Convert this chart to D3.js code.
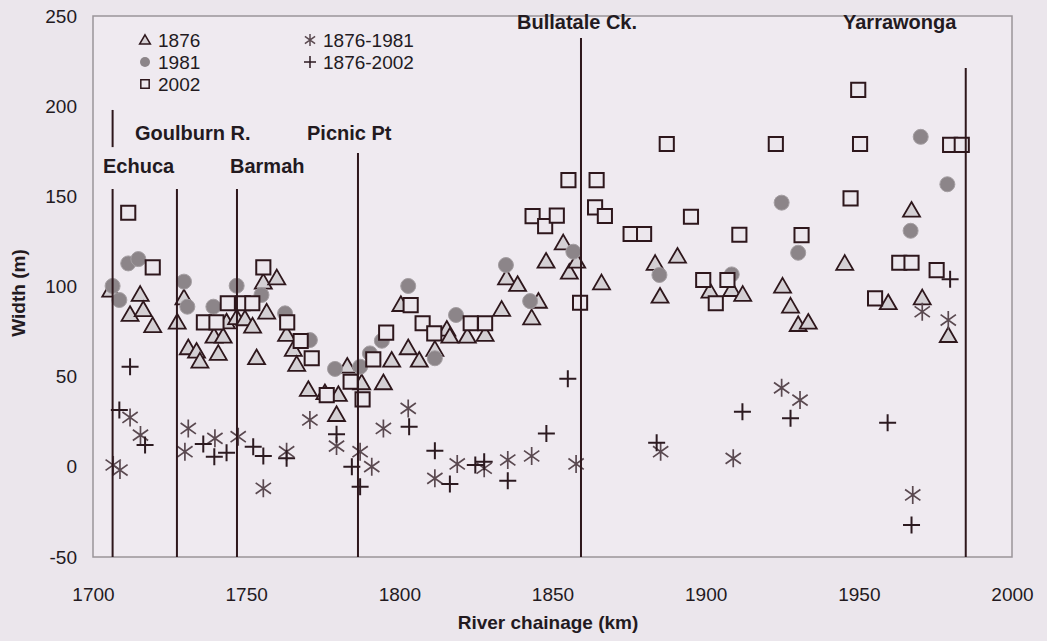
<!DOCTYPE html>
<html>
<head>
<meta charset="utf-8">
<script src="https://cdn.jsdelivr.net/npm/d3@7"></script>
<style>
  html, body { margin: 0; padding: 0; background: #ebe6ec; }
  svg { display: block; }
</style>
</head>
<body>
<div id="chart"></div>
<script>
// Ширина русла (м) по кілометражу річки
const widths1876 = [
  [1705.8, 97.7], [1712.1, 84.2], [1715.4, 95.3], [1716.4, 86.9], [1719.5, 78],
  [1727.5, 79.9], [1729.7, 93.4], [1731.1, 65.7], [1733.8, 63.8], [1734.9, 58.3],
  [1739.5, 72.1], [1742.5, 72.1], [1740.9, 62.6], [1743.6, 80], [1746.9, 82.4],
  [1749.6, 81.8], [1752.1, 77.7], [1753.4, 60.2], [1755.6, 102.1], [1756.7, 85.5],
  [1760, 104.5], [1763.2, 73.1], [1765.4, 64.8], [1766.5, 56.5], [1770.3, 42.6],
  [1775.7, 40.8], [1779.5, 28.7], [1780.1, 39.8], [1783, 55.5], [1787.7, 46.3],
  [1794.8, 46.3], [1797.5, 58.8], [1800.5, 89.7], [1802.9, 65.7], [1806.5, 58.8],
  [1811.6, 64.8], [1815.5, 76], [1816.5, 72.1], [1822.2, 72.1], [1828, 73.1],
  [1833.4, 87], [1835, 104.5], [1838.6, 100.8], [1843.2, 82.3], [1845.4, 91.5],
  [1847.9, 113.7], [1853.5, 123.9], [1855.5, 107.6], [1857.9, 113.7], [1866, 101.7],
  [1883.5, 112.5], [1885.1, 94.3], [1890.8, 116.5], [1901.4, 97.1], [1908.5, 98],
  [1912.1, 95.3], [1925.1, 99.9], [1927.7, 88.8], [1930.2, 78.6], [1933.5, 79.9],
  [1945.4, 112.5], [1959.6, 90.7], [1967.2, 142], [1970.7, 93.4], [1979.2, 72.5]
];

const widths1981 = [
  [1706.4, 100.3], [1708.6, 92.5], [1711.5, 112.8], [1714.8, 115.2], [1729.7, 102.7],
  [1730.8, 88.8], [1739.3, 88.8], [1746.9, 100.4], [1755, 95.3], [1762.7, 85.1],
  [1770.8, 70.3], [1779, 54.3], [1787.2, 55.5], [1790.4, 62.9], [1794.3, 69.9],
  [1802.9, 100.3], [1811.6, 60.2], [1818.5, 84.2], [1834.8, 111.9], [1842.7, 91.9],
  [1856.8, 119.3], [1884.9, 106.4], [1908.5, 106.7], [1924.8, 146.5], [1930.2, 118.7],
  [1966.9, 130.9], [1970.2, 183], [1978.9, 156.7]
];

const widths2002 = [
  [1711.5, 140.9], [1719.5, 110.6], [1736.2, 80.1], [1740.3, 80.1], [1744, 90.7],
  [1748.9, 90.7], [1752, 90.7], [1755.6, 110.6], [1763.4, 80.1], [1767.8, 69.8],
  [1771.4, 60.2], [1776.3, 39.8], [1784.1, 47.2], [1788, 37.4], [1791.5, 59.6],
  [1795.7, 74.4], [1803.7, 89.7], [1807.6, 79.6], [1811.4, 74], [1823.3, 79.6],
  [1828, 79.6], [1843.5, 139], [1847.6, 133.5], [1851.4, 139.3], [1855.2, 159],
  [1859, 91], [1863.9, 143.9], [1864.4, 159], [1867.1, 139.1], [1875.5, 129.1],
  [1879.9, 129.1], [1887.3, 179], [1895.2, 138.7], [1899.2, 103.6], [1903.3, 90.7],
  [1907.1, 103.6], [1911, 128.7], [1922.9, 179], [1931.3, 128.5], [1947.3, 148.9],
  [1949.8, 209], [1950.4, 179], [1955.3, 93.4], [1963.2, 113.2], [1967.2, 113.2],
  [1975.4, 109.1], [1979.8, 178.5], [1983.6, 178.5]
];

const change1876_1981 = [
  [1706.6, 1], [1708.8, -1.8], [1712.1, 27.4], [1715.5, 17.6], [1730, 8.4],
  [1731.1, 21.3], [1739.8, 15.8], [1747.4, 16.7], [1755.6, -11.9], [1763.2, 8.4],
  [1770.8, 26], [1779.5, 11.5], [1787.2, 8.4], [1791, 0.1], [1794.8, 21.3],
  [1802.9, 32.4], [1811.6, -6.4], [1818.9, 1.6], [1827.7, -0.8], [1835.4, 3.8],
  [1843.2, 6], [1857.7, 1.6], [1885.3, 8.4], [1909, 4.7], [1924.8, 43.8],
  [1930.8, 37], [1967.6, -15.6], [1970.7, 86], [1979.2, 81.4]
];

const change1876_2002 = [
  [1708.6, 31.5], [1712.1, 55.5], [1717, 12.1], [1736, 12.6], [1739.6, 5.6],
  [1743.6, 7.8], [1752.3, 11.1], [1755.6, 6], [1763.2, 4.7], [1779.5, 18],
  [1784.5, 0], [1787.2, -11], [1803.2, 22.2], [1811.6, 8.9], [1816.5, -9.5],
  [1824.8, 1], [1827.7, 2.8], [1835.4, -7.7], [1848, 18.5], [1855, 48.8],
  [1884, 13.4], [1912, 30.6], [1927.7, 26.9], [1959.4, 24.5], [1967.2, -32.3],
  [1979.8, 104]
];

// Орієнтири: назва, км, верх лінії (м)
const landmarkNames = ["Echuca", "Goulburn R.", "Barmah", "Picnic Pt", "Bullatale Ck.", "Yarrawonga"];
const landmarkKm = [1706.4, 1727.4, 1747, 1786.5, 1859.3, 1984.9];
const landmarkTop = [154, 154, 154, 174, 237.8, 221.2];

const xTicks = [1700, 1750, 1800, 1850, 1900, 1950, 2000];
const yTicks = [-50, 0, 50, 100, 150, 200, 250];

const width = 1047, height = 641;
const colors = {
  text: "#231a1f",
  line: "#2e171c",
  frame: "#9b9599",
  plot: "#efeaf0",
  triFill: "#d4d0d4",
  circle: "#8c8589",
  star: "#5a4950",
  plus: "#2c1a20"
};
const font = "'Liberation Sans', Arial, sans-serif";

const svg = d3.select("#chart").append("svg")
  .attr("width", width).attr("height", height)
  .style("background", "#ebe6ec")
  .style("font-family", font);

const x = d3.scaleLinear().domain([1700, 2000]).range([93, 1012]);
const y = d3.scaleLinear().domain([-50, 250]).range([557, 16]);

// рамка області побудови
svg.append("rect")
  .attr("x", x(1700)).attr("y", y(250))
  .attr("width", x(2000) - x(1700)).attr("height", y(-50) - y(250))
  .attr("fill", colors.plot).attr("stroke", colors.frame).attr("stroke-width", 1.5);

// осі (звичайний дефіс у мінусі, як в оригіналі)
const gx = svg.append("g").attr("transform", `translate(0,${y(-50)})`)
  .call(d3.axisBottom(x).tickValues(xTicks).tickSize(0).tickPadding(31).tickFormat(d => String(d)));
const gy = svg.append("g").attr("transform", `translate(${x(1700)},0)`)
  .call(d3.axisLeft(y).tickValues(yTicks).tickSize(0).tickPadding(16).tickFormat(d => String(d)));
[gx, gy].forEach(g => {
  g.select(".domain").remove();
  g.selectAll("text").style("font-size", "19px").style("font-family", font).attr("fill", colors.text);
});

svg.append("text")
  .attr("x", 548).attr("y", 629)
  .attr("text-anchor", "middle")
  .style("font-size", "19px").style("font-weight", "bold").attr("fill", colors.text)
  .text("River chainage (km)");

svg.append("text")
  .attr("transform", "translate(25,293) rotate(-90)")
  .attr("text-anchor", "middle")
  .style("font-size", "19px").style("font-weight", "bold").attr("fill", colors.text)
  .text("Width (m)");

// маркери
const tri = d3.symbol().type(d3.symbolTriangle).size(125);
const sq = d3.symbol().type(d3.symbolSquare).size(200);
const starPath = s => `M0,${-s}V${s}M${-s * 0.85},${-s * 0.6}L${s * 0.85},${s * 0.6}M${-s * 0.85},${s * 0.6}L${s * 0.85},${-s * 0.6}`;
const plusPath = s => `M${-s},0H${s}M0,${-s}V${s}`;

const plot = svg.append("g");

plot.selectAll(".t").data(widths1876).join("path")
  .attr("transform", d => `translate(${x(d[0])},${y(d[1]) + 1})`)
  .attr("d", tri)
  .attr("fill", colors.triFill).attr("stroke", colors.line).attr("stroke-width", 1.8);

plot.selectAll(".c").data(widths1981).join("circle")
  .attr("cx", d => x(d[0])).attr("cy", d => y(d[1])).attr("r", 7.5)
  .attr("fill", colors.circle).attr("stroke", "#a49ea2").attr("stroke-width", 1);

plot.selectAll(".s").data(widths2002).join("path")
  .attr("transform", d => `translate(${x(d[0])},${y(d[1])})`)
  .attr("d", sq)
  .attr("fill", "#ece7ed").attr("stroke", colors.line).attr("stroke-width", 2);

plot.selectAll(".a").data(change1876_1981).join("path")
  .attr("transform", d => `translate(${x(d[0])},${y(d[1])})`)
  .attr("d", starPath(9))
  .attr("fill", "none").attr("stroke", colors.star).attr("stroke-width", 1.7);

plot.selectAll(".p").data(change1876_2002).join("path")
  .attr("transform", d => `translate(${x(d[0])},${y(d[1])})`)
  .attr("d", plusPath(8.5))
  .attr("fill", "none").attr("stroke", colors.plus).attr("stroke-width", 2);

// вертикальні лінії орієнтирів
landmarkKm.forEach((km, i) => {
  svg.append("line")
    .attr("x1", x(km)).attr("x2", x(km))
    .attr("y1", y(landmarkTop[i])).attr("y2", y(-50))
    .attr("stroke", colors.line).attr("stroke-width", 2);
});
// верхній відрізок над Echuca
svg.append("line")
  .attr("x1", x(landmarkKm[0])).attr("x2", x(landmarkKm[0]))
  .attr("y1", y(197.9)).attr("y2", y(177.3))
  .attr("stroke", colors.line).attr("stroke-width", 2);

const labelPos = [[103, 173], [135, 140], [230, 173], [307, 140], [517, 29], [843, 29]];
landmarkNames.forEach((name, i) => {
  svg.append("text")
    .attr("x", labelPos[i][0]).attr("y", labelPos[i][1])
    .style("font-size", "20px").style("font-weight", "bold")
    .attr("fill", colors.text)
    .text(name);
});

// легенда
const legend = svg.append("g");
const legendItems = [
  { label: "1876", col: 0, row: 0, kind: "tri" },
  { label: "1981", col: 0, row: 1, kind: "circle" },
  { label: "2002", col: 0, row: 2, kind: "sq" },
  { label: "1876-1981", col: 1, row: 0, kind: "star" },
  { label: "1876-2002", col: 1, row: 1, kind: "plus" }
];
legendItems.forEach(it => {
  const lx = it.col === 0 ? 145 : 310;
  const ly = 40 + it.row * 22;
  const g = legend.append("g").attr("transform", `translate(${lx},${ly})`);
  if (it.kind === "tri") g.append("path").attr("d", d3.symbol().type(d3.symbolTriangle).size(50)).attr("transform", "translate(0,1)")
    .attr("fill", colors.triFill).attr("stroke", colors.line).attr("stroke-width", 1.5);
  if (it.kind === "circle") g.append("circle").attr("r", 5).attr("fill", colors.circle);
  if (it.kind === "sq") g.append("path").attr("d", d3.symbol().type(d3.symbolSquare).size(70))
    .attr("fill", "#ece7ed").attr("stroke", colors.line).attr("stroke-width", 1.5);
  if (it.kind === "star") g.append("path").attr("d", starPath(6)).attr("fill", "none").attr("stroke", colors.star).attr("stroke-width", 1.5);
  if (it.kind === "plus") g.append("path").attr("d", plusPath(6)).attr("fill", "none").attr("stroke", colors.plus).attr("stroke-width", 1.5);
  g.append("text").attr("x", 13).attr("y", 7)
    .style("font-size", "19px").attr("fill", colors.text).text(it.label);
});
</script>
</body>
</html>
